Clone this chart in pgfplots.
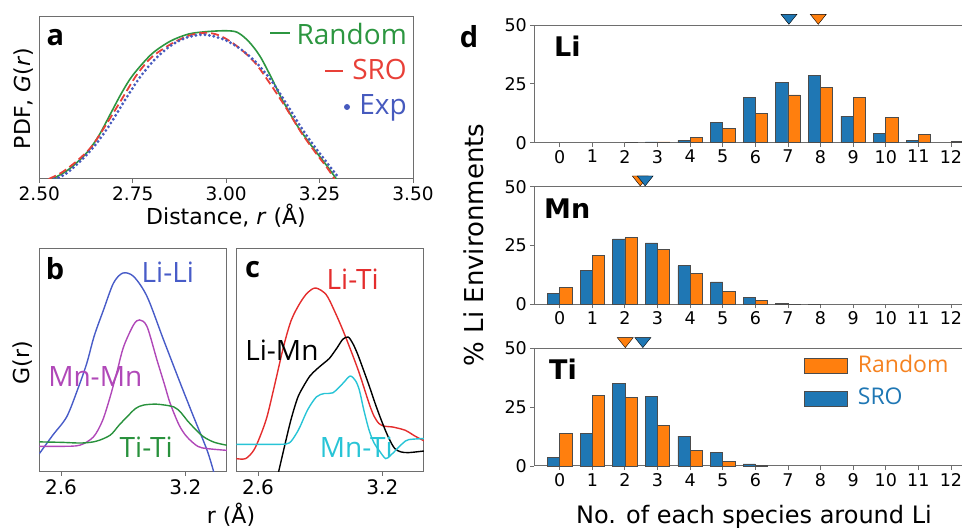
\documentclass[border=0pt]{standalone}
\usepackage{fontspec}
\setmainfont{DejaVu Sans}
\newfontfamily\osans{Open Sans}
\usepackage{pgfplots}
\pgfplotsset{compat=1.18}
\newcommand\fs[1]{\fontsize{#1}{#1}\selectfont}
\definecolor{frameGray}{RGB}{110,110,110}
\definecolor{aGreen}{RGB}{44,150,64}
\definecolor{aRed}{RGB}{232,64,56}
\definecolor{aBlue}{RGB}{70,90,190}
\definecolor{liBlue}{RGB}{72,92,200}
\definecolor{mnMag}{RGB}{176,72,184}
\definecolor{tiGreen}{RGB}{40,145,60}
\definecolor{ltRed}{RGB}{228,45,45}
\definecolor{mtCyan}{RGB}{40,196,214}
\definecolor{tabBlue}{RGB}{31,119,180}
\definecolor{tabOrange}{RGB}{255,127,14}
\definecolor{txtOrange}{RGB}{245,130,32}
\pgfplotsset{
  panel/.style={scale only axis, anchor=south west,
    axis line style={frameGray, line width=1pt},
    tick style={frameGray, line width=0.9pt},
    tick align=outside, major tick length=4pt,
    xtick pos=left, ytick pos=left,
    /pgf/number format/assume math mode=true},
  bcpanel/.style={panel, width=187.5pt, height=223pt,
    xmin=2.495, xmax=3.40, ymin=0, ymax=1,
    xtick={2.6,3.2}, ytick=\empty,
    tick label style={font=\fs{20}}},
  dpanel/.style={panel, width=442.1pt, height=117.5pt,
    xmin=-0.78, xmax=12.78, ymin=0, ymax=50,
    xtick={0,...,12}, ytick={0,25,50}, clip=false,
    tick label style={font=\fs{17.5}}},
  sroBar/.style={ybar, bar width=0.375, bar shift=-0.1875,
    fill=tabBlue, draw=black!70, line width=0.7pt},
  randBar/.style={ybar, bar width=0.375, bar shift=0.1875,
    fill=tabOrange, draw=black!70, line width=0.7pt},
  tri/.style={only marks, mark=triangle*, mark size=9.2pt, forget plot,
    mark options={rotate=180, yscale=0.72, draw=none, fill=#1}},
  curve/.style={smooth, line width=1.4pt},
}

\begin{document}
\begin{tikzpicture}
\useasboundingbox (0pt,0pt) rectangle (962pt,529pt);

% ---- panel a
\begin{axis}[panel, at={(39.3pt,350pt)}, width=373.7pt, height=162pt,
  xmin=2.5, xmax=3.5, ymin=0, ymax=1,
  xtick={2.5,2.75,3,3.25,3.5}, xticklabels={2.50,2.75,3.00,3.25,3.50},
  ytick=\empty, tick label style={font=\fs{18.5}}]
\addplot[aGreen, line width=1.6pt, smooth] coordinates {
 (2.535,0) (2.57,0.045) (2.60,0.10) (2.63,0.17) (2.66,0.27) (2.69,0.40)
 (2.72,0.53) (2.75,0.64) (2.80,0.77) (2.85,0.85) (2.90,0.895) (2.95,0.91)
 (3.00,0.915) (3.03,0.905) (3.06,0.85) (3.09,0.76) (3.12,0.63) (3.15,0.49)
 (3.19,0.33) (3.23,0.20) (3.27,0.08) (3.295,0)};
\addplot[aRed, line width=1.8pt, dash pattern=on 8pt off 4pt, smooth] coordinates {
 (2.525,0) (2.56,0.04) (2.60,0.11) (2.64,0.20) (2.68,0.34) (2.72,0.49)
 (2.76,0.64) (2.80,0.75) (2.85,0.83) (2.90,0.885) (2.94,0.902) (2.97,0.895)
 (3.00,0.865) (3.04,0.80) (3.08,0.71) (3.12,0.58) (3.16,0.44) (3.20,0.29)
 (3.24,0.16) (3.27,0.07) (3.29,0)};
\addplot[aBlue, line width=3.2pt, dash pattern=on 0pt off 4.5pt, line cap=round, smooth] coordinates {
 (2.54,0) (2.57,0.03) (2.61,0.11) (2.65,0.21) (2.69,0.34) (2.73,0.49)
 (2.77,0.63) (2.81,0.74) (2.85,0.82) (2.89,0.87) (2.93,0.89) (2.96,0.885)
 (3.00,0.855) (3.04,0.80) (3.08,0.72) (3.12,0.61) (3.16,0.47) (3.20,0.32)
 (3.24,0.19) (3.27,0.10) (3.30,0.01)};
\end{axis}

% ---- panel b
\begin{axis}[bcpanel, at={(39.3pt,57pt)}]
\addplot[liBlue, curve] coordinates {
 (2.495,0.082) (2.56,0.165) (2.627,0.247) (2.68,0.37) (2.724,0.487)
 (2.76,0.61) (2.805,0.727) (2.853,0.847) (2.898,0.892) (2.95,0.877)
 (3.015,0.787) (3.095,0.592) (3.176,0.397) (3.24,0.247) (3.305,0.097) (3.337,0)};
\addplot[mnMag, curve] coordinates {
 (2.495,0.115) (2.60,0.115) (2.69,0.12) (2.756,0.157) (2.80,0.23) (2.837,0.337)
 (2.87,0.45) (2.902,0.562) (2.95,0.66) (2.979,0.682) (3.015,0.652) (3.063,0.502)
 (3.10,0.39) (3.127,0.307) (3.17,0.21) (3.208,0.157) (3.26,0.115) (3.305,0.105) (3.40,0.097)};
\addplot[tiGreen, curve] coordinates {
 (2.495,0.135) (2.60,0.133) (2.70,0.13) (2.77,0.138) (2.837,0.165) (2.88,0.21)
 (2.918,0.247) (2.96,0.285) (2.998,0.30) (3.063,0.304) (3.144,0.292) (3.18,0.265)
 (3.208,0.232) (3.25,0.19) (3.289,0.157) (3.34,0.133) (3.40,0.12)};
\node[font=\osans\fs{28}, text=liBlue] at (axis cs:3.115,0.895) {Li-Li};
\node[font=\osans\fs{28}, text=mnMag] at (axis cs:2.765,0.427) {Mn-Mn};
\node[font=\osans\fs{28}, text=tiGreen] at (axis cs:3.011,0.109) {Ti-Ti};
\end{axis}

% ---- panel c
\begin{axis}[bcpanel, at={(236.3pt,57pt)}]
\addplot[ltRed, curve] coordinates {
 (2.495,0.06) (2.54,0.06) (2.579,0.097) (2.61,0.16) (2.643,0.247) (2.68,0.39)
 (2.723,0.562) (2.76,0.68) (2.802,0.757) (2.84,0.805) (2.879,0.825) (2.929,0.795)
 (2.97,0.72) (3.009,0.637) (3.05,0.54) (3.089,0.442) (3.136,0.307) (3.16,0.25)
 (3.184,0.217) (3.21,0.205) (3.248,0.202) (3.311,0.187) (3.35,0.165) (3.40,0.14)};
\addplot[black, curve] coordinates {
 (2.699,0) (2.754,0.217) (2.79,0.33) (2.818,0.382) (2.85,0.43) (2.882,0.46)
 (2.92,0.49) (2.945,0.51) (2.98,0.555) (3.009,0.595) (3.035,0.605) (3.057,0.577)
 (3.08,0.53) (3.104,0.47) (3.135,0.39) (3.168,0.30) (3.20,0.22) (3.232,0.15)
 (3.26,0.105) (3.29,0.09) (3.327,0.087) (3.40,0.094)};
\addplot[mtCyan, curve] coordinates {
 (2.495,0.124) (2.70,0.124) (2.75,0.13) (2.78,0.165) (2.802,0.202) (2.84,0.28)
 (2.882,0.337) (2.92,0.352) (2.961,0.355) (3.009,0.397) (3.044,0.43) (3.07,0.41)
 (3.089,0.367) (3.11,0.28) (3.136,0.187) (3.16,0.13) (3.184,0.097) (3.216,0.06)
 (3.24,0.075) (3.264,0.097) (3.30,0.13) (3.327,0.145) (3.40,0.15)};
\node[font=\osans\fs{28}, text=ltRed] at (axis cs:3.057,0.865) {Li-Ti};
\node[font=\osans\fs{28}, text=black] at (axis cs:2.715,0.547) {Li-Mn};
\node[font=\osans\fs{28}, text=mtCyan] at (axis cs:3.074,0.109) {Mn-Ti};
\end{axis}

% ---- panel d, Li
\begin{axis}[dpanel, at={(534.3pt,386.3pt)}]
\addplot[sroBar] coordinates {(3,0.3) (4,1.0) (5,8.8) (6,19.1) (7,25.8) (8,28.7) (9,11.3) (10,3.8) (11,0.8)};
\addplot[randBar] coordinates {(2,0.1) (3,0.3) (4,2.1) (5,5.9) (6,12.6) (7,20.3) (8,23.5) (9,19.4) (10,10.9) (11,3.5) (12,0.4)};
\addplot[tri=tabOrange] coordinates {(7.93,53.2)};
\addplot[tri=tabBlue] coordinates {(7.03,53.2)};
\end{axis}

% ---- panel d, Mn
\begin{axis}[dpanel, at={(534.3pt,224.7pt)}]
\addplot[sroBar] coordinates {(0,4.6) (1,14.4) (2,27.8) (3,26.1) (4,16.4) (5,9.5) (6,3.1) (7,0.3) (8,0.1)};
\addplot[randBar] coordinates {(0,7.0) (1,20.7) (2,28.3) (3,23.2) (4,13.1) (5,5.3) (6,1.6) (7,0.1)};
\addplot[tri=tabOrange] coordinates {(2.47,53.2)};
\addplot[tri=tabBlue] coordinates {(2.62,53.2)};
\end{axis}

% ---- panel d, Ti
\begin{axis}[dpanel, at={(534.3pt,63pt)},
  legend style={at={(0.61,0.955)}, anchor=north west, draw=none, fill=none,
    inner sep=0pt, row sep=12pt, nodes={inner sep=1pt}, font=\osans\fs{23},
    /tikz/every odd column/.append style={column sep=9pt}},
  legend cell align=left,
  legend image code/.code={\draw[#1] (0pt,-9pt) rectangle (43pt,6pt);}]
\addplot[randBar] coordinates {(0,13.8) (1,30.1) (2,29.2) (3,17.1) (4,6.6) (5,1.9) (6,0.4)};
\addlegendentry{\textcolor{txtOrange}{Random}}
\addplot[sroBar] coordinates {(0,3.6) (1,14.0) (2,35.3) (3,29.6) (4,12.7) (5,5.8) (6,0.9)};
\addlegendentry{\textcolor{tabBlue}{SRO}}
\addplot[tri=tabOrange] coordinates {(2.01,53.2)};
\addplot[tri=tabBlue] coordinates {(2.55,53.2)};
\end{axis}

% ---- legend of panel a
\draw[aGreen, line width=1.4pt] (270pt,496pt) -- (290pt,496pt);
\draw[aRed, line width=1.4pt] (325pt,458pt) -- (343pt,458pt);
\fill[aBlue] (347pt,422pt) circle (3pt);
\node[anchor=base east, inner sep=0pt, font=\osans\fs{28}, text=aGreen] at (407pt,484pt) {Random};
\node[anchor=base east, inner sep=0pt, font=\osans\fs{28}, text=aRed] at (407pt,449pt) {SRO};
\node[anchor=base east, inner sep=0pt, font=\osans\fs{28}, text=aBlue] at (407pt,414pt) {Exp};

% ---- panel letters
\node[font=\osans\bfseries\fs{29}] at (55.5pt,491pt) {a};
\node[font=\osans\bfseries\fs{29}] at (55pt,260.5pt) {b};
\node[font=\osans\bfseries\fs{29}] at (252.5pt,259pt) {c};
\node[font=\osans\bfseries\fs{29}] at (469pt,492pt) {d};
\node[anchor=base west, inner sep=0pt, font=\bfseries\fs{27}] at (554pt,472.3pt) {Li};
\node[anchor=base west, inner sep=0pt, font=\bfseries\fs{27}] at (544pt,310.7pt) {Mn};
\node[anchor=base west, inner sep=0pt, font=\bfseries\fs{27}] at (549pt,149pt) {Ti};

% ---- axis labels
\node[anchor=base, inner sep=0pt, font=\fs{22}] at (226pt,304pt) {Distance, \textit{r} (Å)};
\node[rotate=90, font=\fs{22}] at (24pt,430.5pt) {PDF, \textit{G}(\textit{r})};
\node[rotate=90, font=\fs{22}] at (23pt,166pt) {G(r)};
\node[anchor=base, inner sep=0pt, font=\fs{22}] at (231pt,5pt) {r (Å)};
\node[rotate=90, font=\fs{26}] at (474pt,284pt) {\% Li Environments};
\node[anchor=base, inner sep=0pt, font=\fs{24}] at (754pt,5.5pt) {No. of each species around Li};
\end{tikzpicture}
\end{document}
